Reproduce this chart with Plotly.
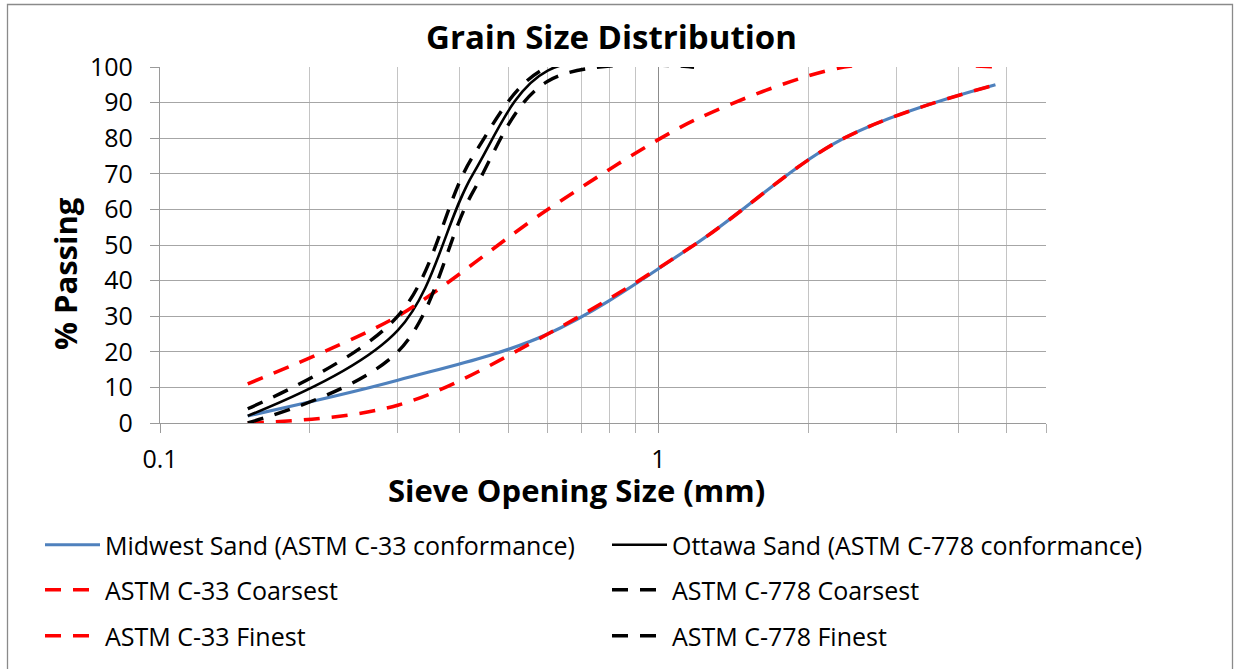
import plotly.graph_objects as go

# Sieve openings (mm)
c33_sieves = [0.15, 0.3, 0.6, 1.18, 2.36, 4.75]
c778_sieves = [0.15, 0.3, 0.425, 0.6, 1.18]

# Percent passing
midwest_passing = [2, 12, 25, 50, 80, 95]
c33_coarsest = [0, 5, 25, 50, 80, 95]
c33_finest = [11, 30, 60, 85, 100, 100]

ottawa_passing = [2, 26, 70, 99, 100]
c778_coarsest = [0, 20, 65, 96, 100]
c778_finest = [4, 30, 75, 100, 100]

y_ticks = list(range(0, 101, 10))
x_major = [0.1, 1]
x_major_text = ["0.1", "1"]
x_minor = [0.2, 0.3, 0.4, 0.5, 0.6, 0.7, 0.8, 0.9, 2, 3, 4, 5, 6]

FONT = "'Open Sans', sans-serif"
W, H = 1239, 669

# plot area in pixels
L, R, T, B = 160, 1046, 67, 423
pw, ph = R - L, B - T


def px_x(px):
    return (px - L) / pw


def px_y(py):
    return (B - py) / ph


fig = go.Figure()

dash = "16px,12px"

# (x, y, name, colour, width, dash, smoothing, legend, legend x, legend row y)
series = [
    (c33_sieves, midwest_passing, "Midwest Sand (ASTM C-33 conformance)", "#4F81BD", 3.2, "solid", 1.0, "legend", 45, 545),
    (c778_sieves, ottawa_passing, "Ottawa Sand (ASTM C-778 conformance)", "#000000", 2.6, "solid", 1.0, "legend2", 612, 545),
    (c33_sieves, c33_coarsest, "ASTM C-33 Coarsest", "#FF0000", 3.6, dash, 1.0, "legend3", 45, 590),
    (c33_sieves, c33_finest, "ASTM C-33 Finest", "#FF0000", 3.6, dash, 0.8, "legend5", 45, 636),
    (c778_sieves, c778_coarsest, "ASTM C-778 Coarsest", "#000000", 3.4, dash, 1.0, "legend4", 612, 590),
    (c778_sieves, c778_finest, "ASTM C-778 Finest", "#000000", 3.4, dash, 1.0, "legend6", 612, 636),
]

legends = {}
for xs, ys, name, color, width, dsh, smooth, leg, lx, ly in series:
    fig.add_trace(go.Scatter(
        x=xs, y=ys, name=name, mode="lines",
        line=dict(color=color, width=width, dash=dsh, shape="spline", smoothing=smooth),
        legend=leg, hoverinfo="skip",
    ))
    legends[leg] = dict(
        orientation="h", xref="container", yref="container",
        x=(lx - 5) / W, y=1 - ly / H, xanchor="left", yanchor="middle",
        font=dict(family=FONT, size=25, color="#000000"),
        itemwidth=55, bgcolor="rgba(0,0,0,0)", borderwidth=0,
    )

fig.update_layout(
    width=W, height=H,
    margin=dict(l=L, r=W - R, t=T, b=H - B),
    paper_bgcolor="#ffffff", plot_bgcolor="#ffffff",
    font=dict(family=FONT, color="#000000"),
    showlegend=True,
    **legends,
    xaxis=dict(
        type="log", range=[-1, 0.77815],
        tickvals=x_major, ticktext=x_major_text,
        tickfont=dict(family=FONT, size=25, color="#000000"),
        ticks="outside", ticklen=9, tickcolor="#9a9a9a", tickwidth=1.3,
        showgrid=True, gridcolor="#8c8c8c", gridwidth=1.3,
        showline=True, linecolor="#9a9a9a", linewidth=1.3,
        ticklabelstandoff=5,
        minor=dict(tickvals=x_minor, showgrid=True, gridcolor="#c4c4c4", gridwidth=1.3,
                   ticks="outside", ticklen=9, tickcolor="#b0b0b0", tickwidth=1.3),
        zeroline=False, fixedrange=True,
    ),
    yaxis=dict(
        range=[0, 100],
        tickvals=y_ticks,
        tickfont=dict(family=FONT, size=25, color="#000000"),
        ticks="outside", ticklen=9, tickcolor="#9a9a9a", tickwidth=1.3,
        showgrid=True, gridcolor="#a6a6a6", gridwidth=1.3,
        showline=True, linecolor="#9a9a9a", linewidth=1.3,
        ticklabelstandoff=12,
        zeroline=False, fixedrange=True,
    ),
    annotations=[
        dict(text="<b>Grain Size Distribution</b>", xref="paper", yref="paper",
             x=px_x(611), y=px_y(37), xanchor="center", yanchor="middle",
             showarrow=False, font=dict(family=FONT, size=33, color="#000000")),
        dict(text="<b>Sieve Opening Size (mm)</b>", xref="paper", yref="paper",
             x=px_x(576), y=px_y(490), xanchor="center", yanchor="middle",
             showarrow=False, font=dict(family=FONT, size=31, color="#000000")),
        dict(text="<b>% Passing</b>", xref="paper", yref="paper",
             x=px_x(65), y=px_y(274), xanchor="center", yanchor="middle",
             textangle=-90, showarrow=False,
             font=dict(family=FONT, size=31, color="#000000")),
    ],
    shapes=[
        dict(type="rect", xref="paper", yref="paper",
             x0=px_x(7.5), x1=px_x(1232.5), y0=px_y(700), y1=px_y(4.5),
             line=dict(color="#8a8a8a", width=1.3), fillcolor="rgba(0,0,0,0)", layer="below"),
    ],
)

fig.write_html("out.html")
